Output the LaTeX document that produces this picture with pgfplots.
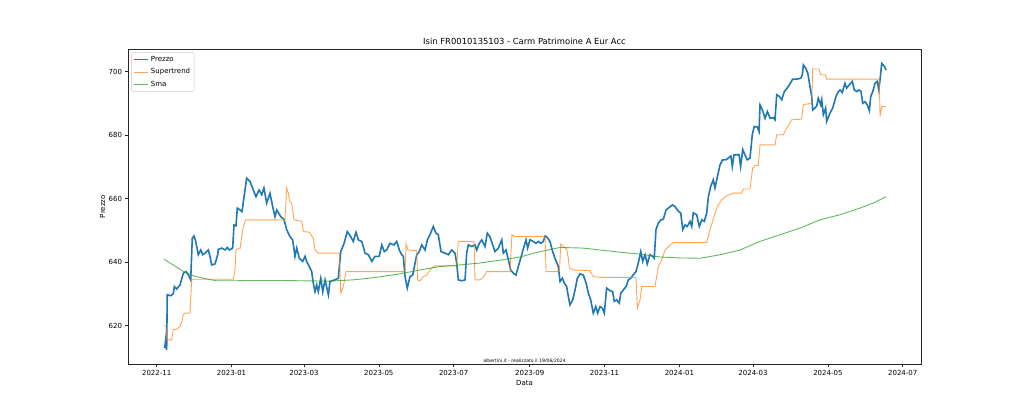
\documentclass[border=0pt]{standalone}
\usepackage{pgfplots}
\pgfplotsset{compat=1.18}
\usepackage{fontspec}
\setmainfont{DejaVu Sans}
\definecolor{tabblue}{HTML}{1F77B4}
\definecolor{taborange}{HTML}{FF7F0E}
\definecolor{tabgreen}{HTML}{2CA02C}
\begin{document}
\begin{tikzpicture}
\path[use as bounding box] (-128pt,-45.7pt) rectangle (896pt,364.3pt);
\begin{axis}[
  name=ax,
  at={(0pt,0pt)}, anchor=south west,
  scale only axis, width=793pt, height=315.3pt,
  xmin=-23.4, xmax=622.9, ymin=607.8, ymax=707.1,
  xtick={0,61,120,181,242,304,365,426,486,547,608},
  xticklabels={2022-11,2023-01,2023-03,2023-05,2023-07,2023-09,2023-11,2024-01,2024-03,2024-05,2024-07},
  ytick={620,640,660,680,700},
  tick align=outside, xtick pos=bottom, ytick pos=left,
  major tick length=2.5pt,
  tick style={black!85, line width=0.6pt},
  axis line style={black!85, line width=0.6pt},
  ticklabel style={font=\fontsize{7}{8}\selectfont},
  /pgf/number format/assume math mode=true,
  legend cell align=left,
  legend style={at={(axis description cs:0.004,0.99)}, anchor=north west,
    draw=black!20, rounded corners=2pt, fill=white, fill opacity=0.8, text opacity=1,
    font=\fontsize{7}{8}\selectfont, row sep=1.6pt, inner sep=2pt},
  legend image code/.code={\draw[#1] (0pt,0pt) -- (14pt,0pt);},
  clip=true,
]
\addlegendimage{tabblue, line width=1.6pt}
\addlegendentry{Prezzo}
\addlegendimage{taborange, opacity=0.7, line width=0.9pt}
\addlegendentry{Supertrend}
\addlegendimage{tabgreen, opacity=0.75, line width=0.9pt}
\addlegendentry{Sma}
\addplot[tabblue, line width=1.6pt, sharp plot, no marks, forget plot] coordinates {
(6.5,612.9)(7.3,615.5)(8.1,612.3)(8.6,629.7)(11.4,629.4)(13.5,630)(14.4,632.3)(16.3,631.5)(19,632.8)(21.7,636.5)(23.9,637)(25.8,636)(27.7,634.4)(29,647.5)(30.4,648.2)(31.8,646.5)(33.9,642.3)(35.9,643.8)(37.5,642.3)(39.4,642.8)(42.1,643.8)(43.4,641.8)(44.8,639.1)(47.5,639.4)(49.7,642.3)(50.2,644)(53,644.4)(55.7,643.8)(57.5,644.6)(59.2,643.8)(61.9,644.4)(63,651.7)(64.6,651.4)(65.7,657)(67.9,656.4)(69.5,655.9)(73.3,666.4)(76,665.4)(78.7,662.7)(80.9,660.6)(83.4,662.7)(85.6,661.2)(87.4,663.3)(89.6,658.6)(92.3,661.7)(94.5,657.5)(96.4,654.3)(97.8,656.4)(101.1,654.3)(103.7,653.5)(105.9,650.2)(108.6,648)(110.8,647)(112.7,641.8)(114.1,644.4)(116.2,641.2)(119,640.2)(120.9,641.8)(122.2,640.2)(124.4,638.6)(126.3,637)(127.6,633.4)(129,630.7)(130.4,632.8)(131.7,630.7)(133.7,634.9)(135.3,630.7)(137.2,634.4)(139.9,629.7)(141.2,633.9)(145.3,634.4)(148,634.9)(150,643.3)(152.7,645.9)(155.3,649.6)(158.1,648)(160.2,646.5)(162.4,649.4)(164.3,647)(167.1,646.5)(169.8,642.8)(172.5,642.3)(175.3,640.2)(177.9,641.8)(181.4,641.8)(183.4,645.4)(185.5,643.3)(187.4,643.8)(190.1,645.9)(193.4,645.4)(195.6,646.5)(197.7,643.8)(199.7,642.3)(201,641.8)(202.4,635.4)(204.2,631.8)(206.4,635.4)(208.6,635.9)(211.9,642.3)(214,643.3)(216,645.4)(218.7,643.8)(220.6,647)(222.7,648.6)(225.4,651.2)(227.6,649.1)(229.5,648.6)(231.7,643.3)(235,642.8)(237.7,642.3)(240.4,643.8)(243.1,642.8)(244.5,639.6)(245.8,634.4)(248.6,634.1)(251.3,634.4)(252.6,642.8)(254,645.4)(256.7,644.9)(259.4,645.4)(260.8,643.8)(262.9,645.9)(264.9,647)(267.6,644.9)(269.4,649.1)(271.6,648)(273.8,645.4)(275.7,643.3)(278.4,644.4)(281.2,647)(282.5,642.8)(284.7,643.8)(286.6,640.7)(288.5,637.5)(290.6,636.5)(292.8,635.9)(294.7,638.6)(297.5,642.3)(299.3,644.9)(301,647)(302.3,644.4)(304.2,647)(306.9,646.5)(309.1,645.9)(311,646.5)(313,645.9)(315.1,646.5)(316.5,648.2)(317.8,648)(320.5,646.5)(322.7,643.3)(324.6,641.2)(327.3,638.6)(328.7,633.9)(330.6,634.9)(332.2,633.4)(334.1,632.3)(335.5,629.1)(336.8,626.5)(339,628.1)(340.9,631.2)(342.8,634.9)(345,636.3)(347.7,635.9)(349.9,633.4)(351.8,630.2)(353.7,628.1)(355.8,623.9)(357.8,626)(359.4,623.9)(361.3,626)(363.2,625.5)(364.8,623.9)(366.7,631.8)(369.4,631)(371.6,630.7)(372.9,627.6)(374.9,628.1)(377,627.1)(378.2,630.2)(380.3,631.2)(382.5,632.3)(384.4,634.4)(386.3,634.9)(388.4,636)(390.6,637)(392.5,639.7)(394.5,643.3)(396.1,640.2)(398,642.3)(399.8,639.4)(402,642.3)(404.2,641.8)(405.5,641.2)(406.9,650.2)(408.8,652.3)(411,653.3)(412.9,653.5)(415.1,656.4)(417,657)(420.3,658)(422.4,657.5)(425.1,656)(427.1,655.4)(428.7,650.2)(430.6,651.7)(432.4,651.2)(434.6,652.8)(436,651.2)(437.3,655.5)(440.1,654.9)(442.2,651.2)(444.2,653.3)(446.3,652.8)(448.2,655.4)(449.6,660.6)(451.5,663.8)(453.6,665.9)(455,663.3)(456.4,665.9)(459.1,670.6)(461.2,672.2)(463.9,672.2)(466.6,673)(468,673.4)(469.1,670.1)(470.5,673.8)(472.7,673.8)(474.6,673.8)(475.9,670.1)(477.6,675.4)(479.4,673.8)(481.3,672.2)(483.5,672.7)(485.4,680.1)(487,682.7)(489.5,682.5)(490.9,681.1)(491.7,689.5)(493.6,687.9)(495.8,685.3)(497.7,687.4)(499.9,685.3)(502.5,685.5)(503.9,684.8)(505.3,692.7)(507.4,692.2)(509.4,691.1)(511.5,693.7)(514.8,695.3)(518.3,697.6)(521.6,697.6)(524.9,697.9)(526.2,699)(527,702.1)(528.9,701.1)(530.6,699.5)(532.4,695.3)(533.8,692.1)(534.6,687.9)(536.5,688.5)(537.9,689.2)(539.2,691.6)(541.2,689.5)(542,691.1)(543.3,686.4)(545.2,688.5)(546,684.3)(548.7,686.9)(550.9,688.5)(553.6,692.1)(555.5,693.7)(556.9,694.2)(558.7,693.4)(560.9,696.3)(562.3,694.8)(564.5,695.8)(566.9,696.9)(568.5,694.2)(570.5,693.7)(572.4,694.2)(574,693.7)(575.4,690)(577.3,690.5)(579.1,689.5)(580.8,687.7)(581.9,692.1)(583.6,693.7)(585.4,696.3)(587.3,696.9)(588.5,694.2)(589.5,697.4)(590.9,702.6)(593.1,701.6)(594.4,700.5)
};
\addplot[taborange, opacity=0.7, line width=0.9pt, sharp plot, no marks, forget plot] coordinates {
(6.5,620)(7.5,620)(8.1,615.5)(12.2,615.5)(13.5,618.7)(16.3,618.9)(19,619.7)(20.4,621.3)(21.7,623.4)(23.1,623.9)(27.1,623.9)(28.5,634.4)(29.8,634.6)(62.4,634.6)(63.8,637.5)(64.6,643.8)(66,644.2)(67.9,644.2)(69.3,648)(70.6,651.2)(72.5,653.3)(104.5,653.3)(105.9,663.3)(107.3,661.7)(108.1,659.4)(110,658.6)(111.9,653.3)(118.2,652.8)(119.5,649.6)(124.4,649.4)(127.6,647.5)(129,643.8)(131.7,642.8)(148.8,642.8)(150,630.2)(152.1,632.3)(154.3,637)(202.4,637)(203.2,645.9)(204.7,643.8)(211.9,643.6)(212.7,634.4)(214.6,634.1)(217.3,635.4)(220,635.9)(222.7,637.5)(226,638.8)(244.5,638.8)(245.8,646.5)(258.6,646.5)(259.4,634.4)(263.5,634.4)(266.2,635.2)(269,637)(288,637)(289.5,648.6)(292,648)(316.5,648)(317.3,637)(328.2,637)(329.3,645.7)(331.4,644.9)(334.1,644.1)(335.5,641.2)(336.3,638.1)(339.5,637.5)(353.1,637.3)(355.8,635.4)(361.3,635.2)(390.6,635.2)(391.7,625.5)(393.9,628.1)(395.3,632.3)(406.1,632.3)(408.8,638.6)(411.6,640.7)(414.3,643.8)(417,644.9)(421,646.1)(448.2,646.1)(450.9,650.2)(454.2,654.3)(456.9,657.5)(460.5,659.6)(464.5,660.9)(469.9,661.7)(476.8,661.7)(478.1,663)(483.5,663)(485.7,669.6)(487.6,670.4)(490.3,670.4)(491.7,676.9)(503.9,676.9)(505.3,680.1)(510.7,680.1)(513.5,682.2)(517.5,684.8)(525.6,685)(527,689.5)(533.8,690.1)(534.6,700.8)(539.7,700.8)(541.2,699)(545,699)(546,697.6)(588.9,697.6)(589.5,685.8)(590.9,689)(594.4,689)
};
\addplot[tabgreen, opacity=0.75, line width=0.9pt, sharp plot, no marks, forget plot] coordinates {
(6,640.9)(10.8,639.7)(16.3,638.4)(21.7,637)(29.8,635.7)(38,634.9)(48.9,634.1)(62.4,634.1)(76,634.2)(100,634.2)(120,634.1)(141.2,634)(160.2,634.4)(179.3,635.2)(198.3,636.3)(214.6,637.5)(230.9,638.6)(247.2,639.1)(263.5,639.7)(279.8,640.6)(296.1,641.6)(312.4,643.3)(328.7,644.6)(347.7,644.4)(361.3,643.8)(377.6,643.1)(393.9,642.5)(410.2,641.6)(426,641.3)(442.8,641.2)(459.1,642.3)(475.4,643.8)(491.7,646.5)(508,648.6)(524.3,650.7)(540.6,653.3)(556.9,654.9)(573.2,657)(584,658.6)(594.4,660.6)
};
\node[anchor=south, font=\fontsize{4.6}{5}\selectfont, inner sep=0.5pt] at (axis description cs:0.5,0) [yshift=0.5pt] {albertini.it - realizzato il 19/06/2024};
\end{axis}
\node[anchor=base, font=\fontsize{8.4}{10}\selectfont, inner sep=0pt] at ([yshift=4.5pt]ax.north) {Isin FR0010135103 - Carm Patrimoine A Eur Acc};
\node[anchor=center, font=\fontsize{7}{8}\selectfont, inner sep=0pt] at ([yshift=-18.7pt]ax.south) {Data};
\node[anchor=center, rotate=90, font=\fontsize{7}{8}\selectfont, inner sep=0pt] at ([xshift=-25.3pt]ax.west) {Prezzo};
\end{tikzpicture}
\end{document}
